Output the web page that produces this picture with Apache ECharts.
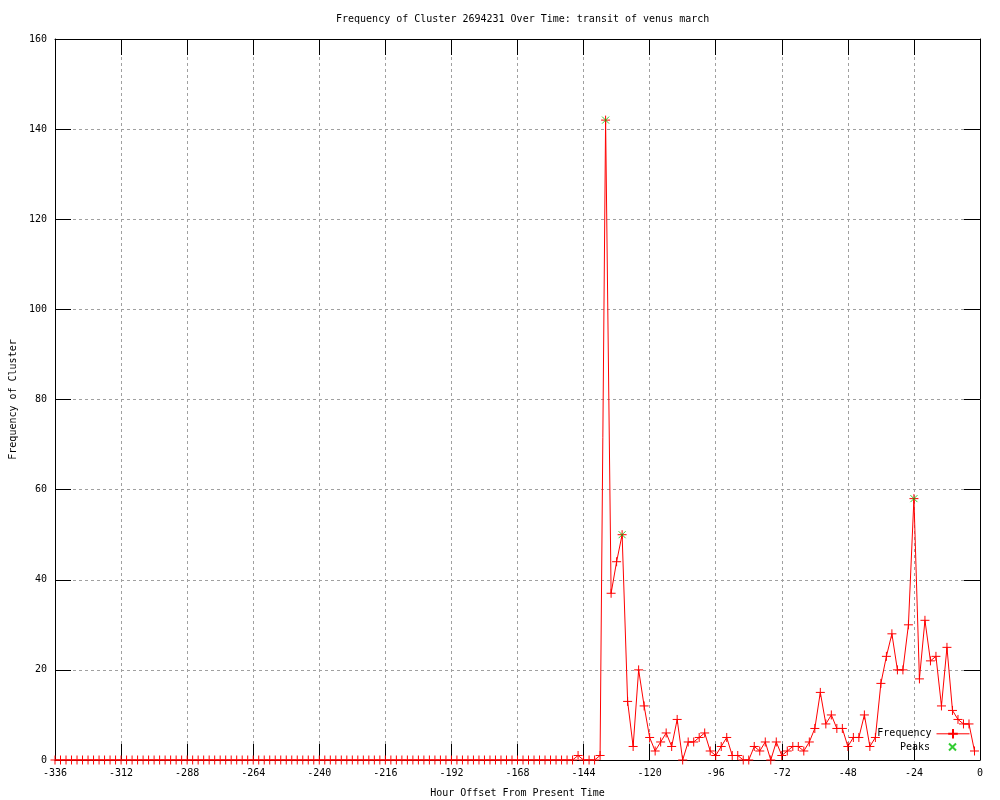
<!DOCTYPE html>
<html>
<head>
<meta charset="utf-8">
<script src="https://cdn.jsdelivr.net/npm/echarts@6/dist/echarts.min.js"></script>
<style>html,body{margin:0;padding:0;background:#fff}#c{width:1000px;height:800px}</style>
</head>
<body>
<div id="c"></div>
<script>
// Hours: every 2 hours from START_HOUR
const START_HOUR = -336;
const HOUR_STEP = 2;
// Frequency values, one per 2-hour bin from -336 to -2
const frequency = [
  0,0,0,0,0,0,0,0,0,0, 0,0,0,0,0,0,0,0,0,0,
  0,0,0,0,0,0,0,0,0,0, 0,0,0,0,0,0,0,0,0,0,
  0,0,0,0,0,0,0,0,0,0, 0,0,0,0,0,0,0,0,0,0,
  0,0,0,0,0,0,0,0,0,0, 0,0,0,0,0,0,0,0,0,0,
  0,0,0,0,0,0,0,0,0,0, 0,0,
  // -152 .. -138
  0,0,0,1,0,0,0,1,
  // -136 .. -108
  142,37,44,50,13,3,20,12,5,2,4,6,3,9,0,
  // -106 .. -76
  4,4,5,6,2,1,3,5,1,1,0,0,3,2,4,0,
  // -74 .. -50
  4,1,2,3,3,2,4,7,15,8,10,7,7,
  // -48 .. -26
  3,5,5,10,3,5,17,23,28,20,20,30,
  // -24 .. -2
  58,18,31,22,23,12,25,11,9,8,8,2
];
const peakHours = [-136, -130, -24];
const peakValues = [142, 50, 58];
const xTicks = {min: -336, max: 0, interval: 24};
const yTicks = {min: 0, max: 160, interval: 20};

const freqData = frequency.map((v, i) => [START_HOUR + i * HOUR_STEP, v]);
const peakData = peakHours.map((h, i) => [h, peakValues[i]]);

const FONT = 'DejaVu Sans Mono';
const chart = echarts.init(document.getElementById('c'), null, {renderer: 'canvas'});
const gridLine = {show: true, lineStyle: {color: '#a0a0a0', width: 1, type: [3, 3]}};
const axisLine = {show: true, onZero: false, lineStyle: {color: '#000', width: 1}};
const tick = {show: true, inside: true, length: 16, lineStyle: {color: '#000', width: 1}};
const label = {color: '#000', fontFamily: FONT, fontSize: 10};

chart.setOption({
  animation: false,
  backgroundColor: '#fff',
  title: {
    text: 'Frequency of Cluster 2694231 Over Time: transit of venus march',
    left: 331, top: 9,
    textStyle: {fontFamily: FONT, fontSize: 10, fontWeight: 'normal', color: '#000'}
  },
  grid: {left: 55, right: 20, top: 39, bottom: 40, containLabel: false, outerBoundsMode: 'none'},
  legend: [{
    data: ['Frequency'],
    orient: 'vertical', align: 'right',
    right: 30, top: 728, padding: 0,
    itemWidth: 33, itemHeight: 12,
    lineStyle: {width: 1},
    textStyle: {fontFamily: FONT, fontSize: 10, color: '#000'},
    selectedMode: false
  }, {
    data: ['Peaks'],
    orient: 'vertical', align: 'right',
    right: 43, top: 742, padding: 0,
    itemWidth: 7, itemHeight: 7,
    textStyle: {fontFamily: FONT, fontSize: 10, color: '#000', padding: [0, 14, 0, 0]},
    selectedMode: false
  }],
  xAxis: [{
    type: 'value', position: 'bottom', min: xTicks.min, max: xTicks.max, interval: xTicks.interval,
    name: 'Hour Offset From Present Time', nameLocation: 'middle', nameGap: 28,
    nameTextStyle: {fontFamily: FONT, fontSize: 10, color: '#000'},
    axisLine: axisLine, axisTick: tick, axisLabel: Object.assign({margin: 8}, label),
    splitLine: gridLine
  }, {
    type: 'value', position: 'top', min: xTicks.min, max: xTicks.max, interval: xTicks.interval,
    axisLine: axisLine, axisTick: tick, axisLabel: {show: false}, splitLine: {show: false}
  }],
  yAxis: [{
    type: 'value', position: 'left', min: yTicks.min, max: yTicks.max, interval: yTicks.interval,
    name: 'Frequency of Cluster', nameLocation: 'middle', nameGap: 37,
    nameTextStyle: {fontFamily: FONT, fontSize: 10, color: '#000'},
    axisLine: axisLine, axisTick: tick, axisLabel: Object.assign({margin: 8}, label),
    splitLine: gridLine
  }, {
    type: 'value', position: 'right', min: yTicks.min, max: yTicks.max, interval: yTicks.interval,
    axisLine: axisLine, axisTick: tick, axisLabel: {show: false}, splitLine: {show: false}
  }],
  series: [{
    name: 'Frequency', type: 'line', xAxisIndex: 0, yAxisIndex: 0,
    data: freqData, showAllSymbol: true,
    symbol: 'path://M5,0L5,10M0,5L10,5', symbolSize: 9,
    lineStyle: {color: '#ff0000', width: 1},
    itemStyle: {color: '#ff0000', borderColor: '#ff0000', borderWidth: 1},
    emphasis: {disabled: true}, silent: true, z: 3
  }, {
    name: 'Peaks', type: 'scatter', xAxisIndex: 0, yAxisIndex: 0,
    data: peakData,
    symbol: 'path://M0,0L10,10M10,0L0,10', symbolSize: 7,
    itemStyle: {color: '#00c000', borderColor: '#00c000', borderWidth: 1},
    emphasis: {disabled: true}, silent: true, z: 4
  }]
});
</script>
</body>
</html>
